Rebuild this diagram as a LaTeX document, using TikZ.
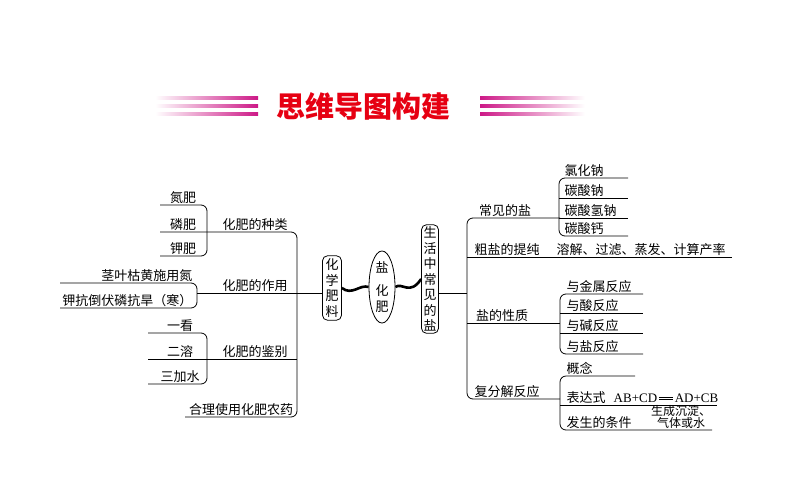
\documentclass[tikz,border=0pt]{standalone}
\usepackage{fontspec}
\setmainfont{Liberation Serif}
\newfontfamily\cjk{Noto Sans CJK SC}
\usetikzlibrary{shapes.geometric}
\definecolor{rosered}{RGB}{205,25,135}
\definecolor{titlered}{RGB}{230,0,18}

\begin{document}
\begin{tikzpicture}[x=1pt,y=-1pt]
	\tikzstyle{lbl} = [anchor=south,inner sep=1.5pt,font=\cjk\fontsize{13}{15}\selectfont]
	\tikzstyle{brk} = [rounded corners=6pt,line width=0.8pt]
	\tikzstyle{vbox} = [draw,rounded corners=5pt,line width=0.8pt,align=center,inner sep=3pt,font=\cjk\fontsize{13}{15.5}\selectfont]
\useasboundingbox (0,0) rectangle (794,495);
% header
\foreach \y in {98,106,114} {
	\shade[left color=white,right color=rosered] (155,\y-1.3) rectangle (258,\y+1.3);
	\shade[left color=rosered,right color=white] (480,\y-1.3) rectangle (585,\y+1.3);
}
\node(title)[font=\cjk\bfseries\fontsize{29}{32}\selectfont,text=titlered] at (363,106) {思维导图构建};
% centre
\node(hf)[vbox] at (332,288) {化\\学\\肥\\料};
\node(yh)[draw,ellipse,line width=0.8pt,minimum width=26pt,minimum height=66pt,inner sep=0pt,align=center,font=\cjk\fontsize{13}{15.5}\selectfont] at (382,287) {盐\\[8pt]化\\肥};
\node(sh)[vbox,inner sep=2pt] at (430,279) {生\\活\\中\\常\\见\\的\\盐};
\draw[line width=2.6pt] (hf.east) .. controls (352,296) and (360,284) .. (yh.west);
\draw[line width=2.6pt] (yh.east) .. controls (402,282) and (410,296) .. (sh.west);
% left side
\coordinate(lc) at (297,293);
\draw[brk] (160,232) -- (297,232) -- (297,417) -- (185,417);
\draw[line width=0.8pt] (197,293) -- (hf.west |- lc);
\draw[line width=0.8pt] (148,359) -- (297,359);
\draw[brk] (160,205) -- (207,205) -- (207,256) -- (160,256);
\draw[brk] (60,283) -- (197,283) -- (197,308) -- (60,308);
\draw[brk] (148,333) -- (207,333) -- (207,384) -- (148,384);
\node(zl)[lbl] at (255,232) {化肥的种类};
\node(zy)[lbl] at (255,293) {化肥的作用};
\node(jb)[lbl] at (255,359) {化肥的鉴别};
\node(hl)[lbl] at (241,417) {合理使用化肥农药};
\node(df)[lbl] at (183,205) {氮肥};
\node(lf)[lbl] at (183,232) {磷肥};
\node(jf)[lbl] at (183,256) {钾肥};
\node(jy)[lbl,anchor=south east] at (194,283) {茎叶枯黄施用氮};
\node(jk)[lbl,anchor=south east] at (194,308) {钾抗倒伏磷抗旱（寒）};
\node(yk)[lbl] at (180,333) {一看};
\node(er)[lbl] at (180,359) {二溶};
\node(sj)[lbl] at (180,384) {三加水};
% right side
\draw[line width=0.8pt] (sh.east |- lc) -- (467,293);
\draw[brk] (560,218) -- (467,218) -- (467,399) -- (560,399);
\draw[line width=0.8pt] (467,257) -- (732,257);
\draw[line width=0.8pt] (467,323) -- (560,323);
\draw[line width=0.8pt] (559,198) -- (628,198);
\draw[line width=0.8pt] (559,218) -- (628,218);
\draw[brk] (628,178) -- (559,178) -- (559,236) -- (628,236);
\draw[line width=0.8pt] (560,313) -- (643,313);
\draw[line width=0.8pt] (560,333) -- (643,333);
\draw[brk] (643,294) -- (560,294) -- (560,354) -- (643,354);
\draw[line width=0.8pt] (560,405) -- (717,405);
\draw[brk] (635,376) -- (560,376) -- (560,430) -- (712,430);
\node(cj)[lbl] at (505,218) {常见的盐};
\node(cy)[lbl] at (507,257) {粗盐的提纯};
\node(xz)[lbl] at (502,323) {盐的性质};
\node(ff)[lbl] at (507,399) {复分解反应};
\node(lhn)[lbl,anchor=south west] at (563,178) {氯化钠};
\node(tsn)[lbl,anchor=south west] at (563,198) {碳酸钠};
\node(tqn)[lbl,anchor=south west] at (563,218) {碳酸氢钠};
\node(tsg)[lbl,anchor=south west] at (563,236) {碳酸钙};
\node(rj)[lbl,anchor=south west] at (555,257) {溶解、过滤、蒸发、计算产率};
\node(js)[lbl,anchor=south west] at (565,294) {与金属反应};
\node(ys)[lbl,anchor=south west] at (565,313) {与酸反应};
\node(yj)[lbl,anchor=south west] at (565,333) {与碱反应};
\node(yy)[lbl,anchor=south west] at (565,354) {与盐反应};
\node(gn)[lbl,anchor=south west] at (565,376) {概念};
\node(bd)[lbl,anchor=south west] at (565,405) {表达式};
\node(ab)[lbl,font=\fontsize{13}{15}\selectfont,anchor=south west] at (612,404) {AB+CD};
\node(ad)[lbl,font=\fontsize{13}{15}\selectfont,anchor=south east] at (720,404) {AD+CB};
\draw[double distance=1.6pt,line width=0.6pt] ([yshift=5.5pt]ab.south east) -- ([yshift=5.5pt]ad.south west);
\node(fs)[lbl,anchor=south west] at (565,430) {发生的条件};
\node(sc)[align=center,inner sep=0pt,font=\cjk\fontsize{12}{12.5}\selectfont] at (681,417) {生成沉淀、\\气体或水};
\end{tikzpicture}
\end{document}
